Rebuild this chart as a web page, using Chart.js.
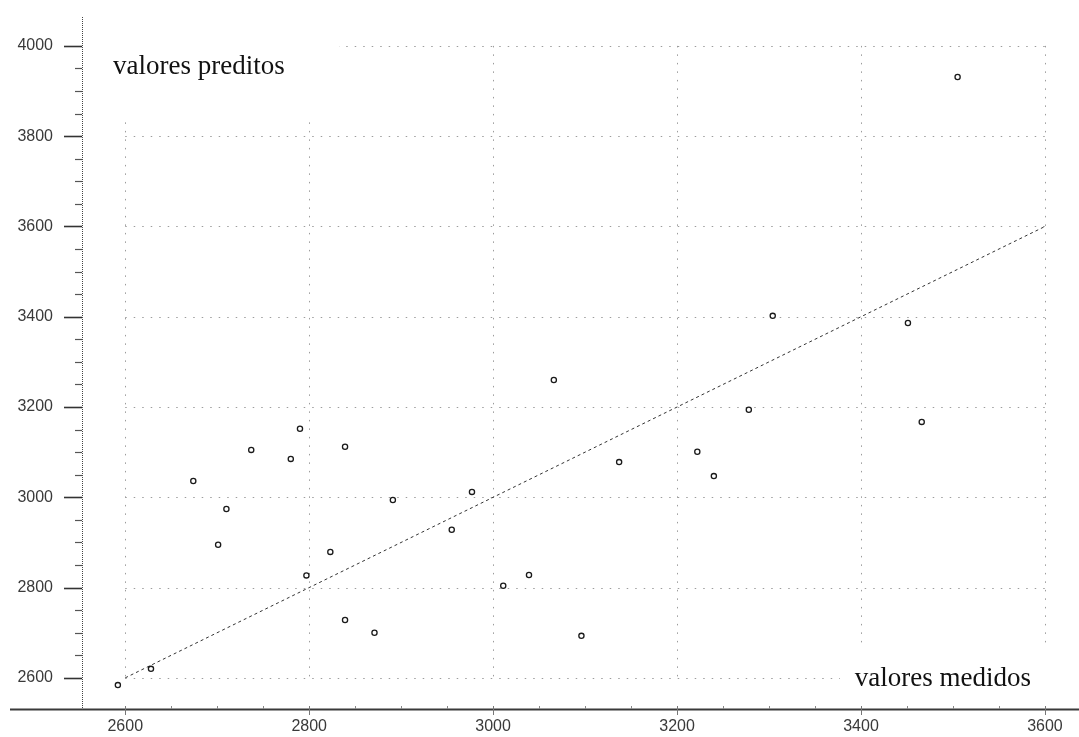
<!DOCTYPE html>
<html>
<head>
<meta charset="utf-8">
<script src="https://cdn.jsdelivr.net/npm/chart.js@4.4.0/dist/chart.umd.min.js"></script>
<style>
  html, body { margin: 0; padding: 0; background: #ffffff; }
  #wrap { width: 1079px; height: 737px; }
</style>
</head>
<body>
<div id="wrap"><canvas id="c"></canvas></div>
<script>
// Measured vs. predicted values
const measured  = [2592, 2628, 2674, 2701, 2710, 2737, 2780, 2790, 2797, 2823, 2839, 2839, 2871, 2891,
                   2955, 2977, 3011, 3039, 3066, 3096, 3137, 3222, 3240, 3278, 3304, 3451, 3466, 3505];
const predicted = [2584, 2620, 3036, 2895, 2974, 3105, 3085, 3152, 2827, 2879, 2728, 3112, 2700, 2994,
                   2928, 3012, 2804, 2828, 3260, 2693, 3078, 3101, 3047, 3194, 3402, 3386, 3167, 3931];

// Reference line y = x
const lineX = [2600, 3600];
const lineY = [2600, 3600];

// Axis ticks
const xTickValues = [2600, 2800, 3000, 3200, 3400, 3600];
const yTickValues = [2600, 2800, 3000, 3200, 3400, 3600, 3800, 4000];

const yLabelText = 'valores preditos';
const xLabelText = 'valores medidos';

const MINOR_STEP = 50;

const frame = {
  id: 'frame',
  beforeDatasetsDraw(chart) {
    const ctx = chart.ctx;
    const a = chart.chartArea;
    const xs = chart.scales.x, ys = chart.scales.y;
    const x0 = xs.getPixelForValue(xTickValues[0]);
    const x1 = xs.getPixelForValue(xTickValues[xTickValues.length - 1]);
    const y0 = ys.getPixelForValue(yTickValues[0]);
    const y1 = ys.getPixelForValue(yTickValues[yTickValues.length - 1]);

    ctx.save();
    // dotted grid bounded by the tick range
    ctx.strokeStyle = '#9c9c9c';
    ctx.lineWidth = 1;
    ctx.setLineDash([1.5, 7]);
    xTickValues.forEach(v => {
      const px = Math.round(xs.getPixelForValue(v)) + 0.5;
      ctx.beginPath(); ctx.moveTo(px, y1); ctx.lineTo(px, y0); ctx.stroke();
    });
    yTickValues.forEach(v => {
      const py = Math.round(ys.getPixelForValue(v)) + 0.5;
      ctx.beginPath(); ctx.moveTo(x0, py); ctx.lineTo(x1, py); ctx.stroke();
    });
    ctx.setLineDash([]);

    // text boxes with white background
    ctx.fillStyle = '#ffffff';
    ctx.fillRect(a.left + 1, a.top, 256, 99);
    ctx.fillRect(a.right - 239, a.bottom - 61, 239, 57);

    ctx.fillStyle = '#111111';
    ctx.font = '27px "Liberation Serif", "Times New Roman", serif';
    ctx.textBaseline = 'alphabetic';
    ctx.textAlign = 'left';
    ctx.fillText(yLabelText, a.left + 31, a.top + 57);
    ctx.textAlign = 'right';
    ctx.fillText(xLabelText, a.right - 48, a.bottom - 23);

    // y axis line (dotted) with major and minor ticks
    ctx.strokeStyle = '#444444';
    ctx.lineWidth = 1;
    ctx.setLineDash([1, 1]);
    ctx.beginPath();
    ctx.moveTo(a.left + 0.5, a.top); ctx.lineTo(a.left + 0.5, a.bottom);
    ctx.stroke();
    ctx.setLineDash([]);

    const yFirst = yTickValues[0], yLast = yTickValues[yTickValues.length - 1];
    for (let v = yFirst; v <= yLast; v += MINOR_STEP) {
      const py = Math.round(ys.getPixelForValue(v)) + 0.5;
      const major = yTickValues.includes(v);
      ctx.lineWidth = major ? 1.6 : 1.2;
      ctx.strokeStyle = major ? '#333333' : '#555555';
      ctx.beginPath();
      ctx.moveTo(a.left - (major ? 18 : 7), py); ctx.lineTo(a.left, py);
      ctx.stroke();
    }

    // x axis line extending past the y axis
    ctx.strokeStyle = '#3a3a3a';
    ctx.lineWidth = 2;
    ctx.beginPath();
    ctx.moveTo(a.left - 72, a.bottom + 0.5); ctx.lineTo(a.right, a.bottom + 0.5);
    ctx.stroke();

    const xFirst = xTickValues[0], xLast = xTickValues[xTickValues.length - 1];
    ctx.lineWidth = 1;
    for (let v = xFirst; v <= xLast; v += MINOR_STEP) {
      const px = Math.round(xs.getPixelForValue(v)) + 0.5;
      const major = xTickValues.includes(v);
      ctx.strokeStyle = major ? '#777777' : '#888888';
      ctx.beginPath();
      if (major) { ctx.moveTo(px, a.bottom - 3); ctx.lineTo(px, a.bottom + 6); }
      else { ctx.moveTo(px, a.bottom - 3); ctx.lineTo(px, a.bottom); }
      ctx.stroke();
    }
    ctx.restore();
  }
};

const tickFont = { family: '"Liberation Sans", Arial, sans-serif', size: 16 };

new Chart(document.getElementById('c'), {
  type: 'scatter',
  data: {
    datasets: [
      {
        type: 'line',
        data: lineX.map((x, i) => ({ x: x, y: lineY[i] })),
        borderColor: '#333333',
        borderWidth: 1,
        borderDash: [3, 3],
        pointRadius: 0,
        fill: false,
        order: 2
      },
      {
        data: measured.map((x, i) => ({ x: x, y: predicted[i] })),
        pointRadius: 2.6,
        pointBorderWidth: 1.3,
        pointBorderColor: '#1a1a1a',
        pointBackgroundColor: '#ffffff',
        order: 1
      }
    ]
  },
  options: {
    responsive: true,
    maintainAspectRatio: false,
    animation: false,
    layout: { autoPadding: false, padding: { top: 17, right: 0, bottom: 0, left: 0 } },
    plugins: { legend: { display: false }, tooltip: { enabled: false } },
    scales: {
      x: {
        type: 'linear',
        min: 2553,
        max: 3637,
        afterBuildTicks: s => { s.ticks = xTickValues.map(v => ({ value: v })); },
        afterFit: s => {
          s.height = 28;
          s.paddingLeft = 0; s.paddingRight = 0; s.paddingTop = 0; s.paddingBottom = 0;
        },
        grid: { display: false, drawTicks: false },
        border: { display: false },
        ticks: { color: '#3a3a3a', font: tickFont, padding: 8, autoSkip: false, maxRotation: 0,
                 callback: v => String(v) }
      },
      y: {
        type: 'linear',
        min: 2531,
        max: 4064,
        afterBuildTicks: s => { s.ticks = yTickValues.map(v => ({ value: v })); },
        afterFit: s => {
          s.width = 82;
          s.paddingLeft = 0; s.paddingRight = 0; s.paddingTop = 0; s.paddingBottom = 0;
        },
        grid: { display: false, drawTicks: false },
        border: { display: false },
        ticks: { color: '#3a3a3a', font: tickFont, padding: 29, autoSkip: false,
                 callback: v => String(v) }
      }
    }
  },
  plugins: [frame]
});
</script>
</body>
</html>
